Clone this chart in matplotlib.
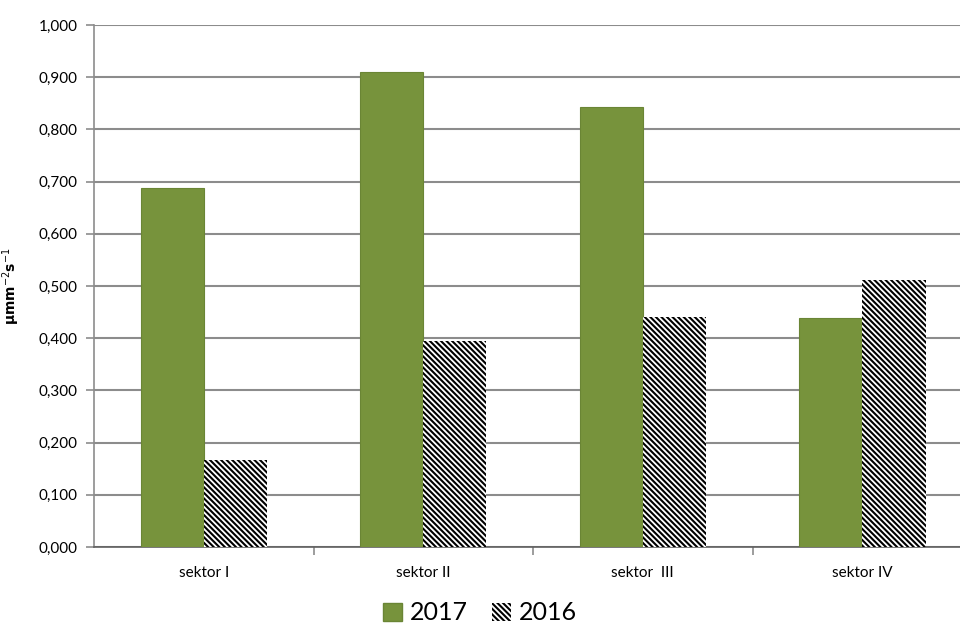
import numpy as np
import matplotlib
matplotlib.use('Agg')
from matplotlib import pyplot as plt
from matplotlib.patches import Patch
from matplotlib.ticker import FuncFormatter, FixedLocator

# data
categories = ['sektor I', 'sektor II', 'sektor  III', 'sektor IV']
v2017 = [0.688, 0.910, 0.843, 0.439]
v2016 = [0.167, 0.395, 0.441, 0.511]
years = ['2017', '2016']

GREEN = '#77933C'
GRID = '#8c8c8c'
HATCH = '\\' * 6

plt.rcParams['font.family'] = ['Lato', 'DejaVu Sans']
plt.rcParams['hatch.linewidth'] = 1.5

fig = plt.figure(figsize=(9.6, 6.28), dpi=100)
ax = fig.add_axes([94 / 960, 1 - 547 / 628, 1 - 94 / 960, 522 / 628])

x = np.arange(len(categories))
w = 0.288
ax.bar(x - w / 2, v2017, w, color=GREEN, edgecolor='#6a8535', lw=0.8, zorder=3)
ax.bar(x + w / 2, v2016, w, color='white', edgecolor='black', hatch=HATCH,
       lw=0, zorder=3)

ax.set_xlim(-0.5, 3.445)
ax.set_ylim(0, 1.0)
ax.set_yticks(np.arange(0, 1.01, 0.1))
ax.yaxis.set_major_formatter(FuncFormatter(lambda v, p: ('%.3f' % v).replace('.', ',')))
ax.grid(axis='y', color=GRID, lw=1.5, zorder=0)

ax.set_xticks(x)
ax.set_xticklabels(categories)
ax.xaxis.set_minor_locator(FixedLocator([0.5, 1.5, 2.5]))
ax.tick_params(axis='x', which='major', length=0, pad=14, labelsize=11)
ax.tick_params(axis='x', which='minor', length=6, color=GRID, width=1.2)
ax.tick_params(axis='y', length=6, color=GRID, width=1.2, labelsize=11, pad=6)

for s in ['top', 'right']:
    ax.spines[s].set_visible(False)
ax.spines['left'].set_color(GRID)
ax.spines['left'].set_linewidth(1.2)
ax.spines['bottom'].set_color('#606060')
ax.spines['bottom'].set_linewidth(1.2)

ax.set_ylabel('μmm$^{-2}$s$^{-1}$', fontsize=10, fontweight='bold', labelpad=12,
              family='DejaVu Sans')

handles = [Patch(facecolor=GREEN, edgecolor='#6a8535'),
           Patch(facecolor='white', edgecolor='black', hatch=HATCH, lw=0)]
fig.legend(handles, years, loc='center', bbox_to_anchor=(0.5, 1 - 613 / 628),
           ncol=2, frameon=False, fontsize=18, handlelength=0.75, handleheight=0.75,
           handletextpad=0.3, columnspacing=1.0)

fig.savefig('out.png', dpi=100)
